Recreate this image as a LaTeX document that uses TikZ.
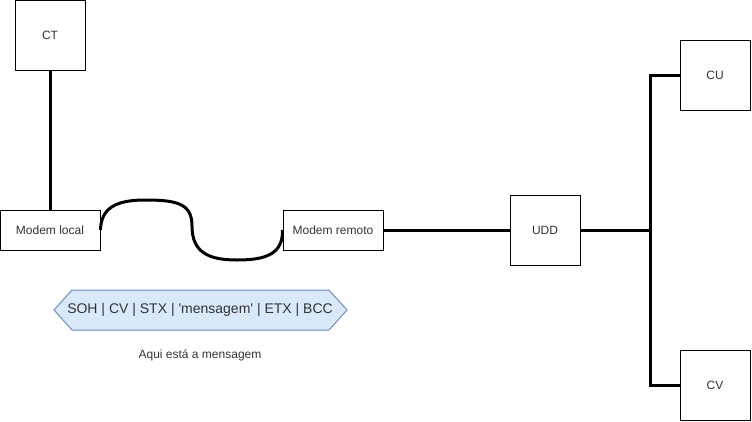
\documentclass[tikz,border=0pt]{standalone}
\usepackage{fontspec}
\setmainfont{Liberation Sans}
\usetikzlibrary{positioning}
\definecolor{msgfill}{HTML}{dae8fc}
\definecolor{msgline}{HTML}{6c8ebf}
\definecolor{txt}{HTML}{333333}

\begin{document}
\begin{tikzpicture}[x=0.75pt,y=-0.75pt,
    box/.style={draw, line width=0.75pt, text=txt, font=\fontsize{9}{11}\selectfont, inner sep=0pt},
    sqbox/.style={box, minimum width=52.5pt, minimum height=52.5pt},
    modembox/.style={box, minimum width=75pt, minimum height=30pt},
    wire/.style={line width=2.25pt}]

    \useasboundingbox (0,0) rectangle (752,421);

    % equipamentos
    \node[sqbox] (ct) at (50,35) {CT};
    \node[modembox] (ml) at (50,230) {Modem local};
    \node[modembox] (mr) at (333,230) {Modem remoto};
    \node[sqbox] (udd) at (545,230) {UDD};
    \node[sqbox] (cu) at (715,75) {CU};
    \node[sqbox] (cv) at (715,385) {CV};
    \coordinate (jn) at (650,230);

    % ligacoes
    \draw[wire] (ct) -- (ml);
    \draw[wire] (ml.east) .. controls (101,208) and (116,200) .. (145,200)
        .. controls (178,200) and (192,204) .. (192,226)
        .. controls (192,252) and (208,260) .. (237,260)
        .. controls (266,260) and (283,254) .. (mr.west);
    \draw[wire] (mr) -- (udd);
    \draw[wire] (udd) -- (jn);
    \draw[wire] (cu) -| (jn) |- (cv);

    % mensagem
    \draw[fill=msgfill, draw=msgline, line width=0.75pt]
        (54,310) -- (72,290) -- (329,290) -- (347,310) -- (329,330) -- (72,330) -- cycle;
    \node[text=txt, font=\fontsize{10.5}{12}\selectfont] (msg) at (200,310)
        {SOH | CV | STX | \textquotesingle mensagem\textquotesingle\ | ETX | BCC};
    \node[text=txt, font=\fontsize{9}{11}\selectfont] (legenda) at (200,355)
        {Aqui está a mensagem};
\end{tikzpicture}
\end{document}
